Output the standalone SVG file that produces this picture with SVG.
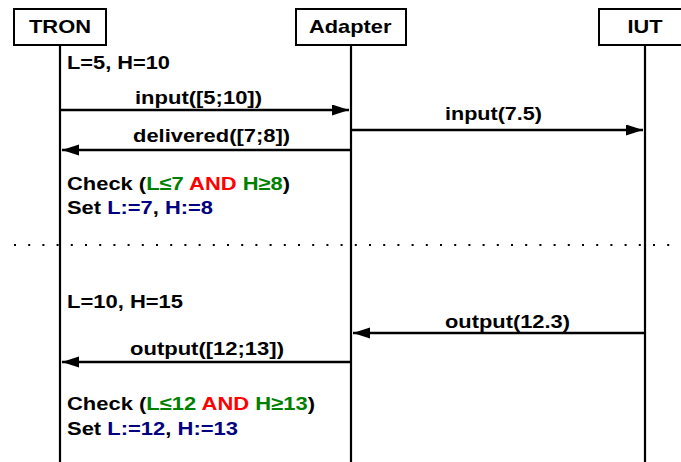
<svg xmlns="http://www.w3.org/2000/svg" width="681" height="462" viewBox="0 0 681 462">
<style>
  text { font-family: "Liberation Sans", Arial, sans-serif; font-weight: bold; font-size: 19px; fill: #000; }
  .box { fill: #fff; stroke: #000; stroke-width: 2; }
  .life { stroke: #000; stroke-width: 2.2; }
  .msg { stroke: #000; stroke-width: 2.5; fill: none; marker-end: url(#arrow); }
  .g { fill: #008000; }
  .r { fill: #ff0000; }
  .b { fill: #000080; }
</style>
<defs>
  <marker id="arrow" markerUnits="userSpaceOnUse" markerWidth="18" markerHeight="12" refX="17" refY="5.5" orient="auto">
    <path d="M0,0 L17,5.5 L0,11 z" fill="#000"/>
  </marker>
</defs>
<rect width="681" height="462" fill="#fff"/>
<g id="separator">
  <line x1="14" y1="245" x2="681" y2="245" stroke="#000" stroke-width="2" stroke-dasharray="2 12.2"/>
</g>
<g id="tron">
  <line class="life" x1="60" y1="45" x2="60" y2="462"/>
  <rect class="box" x="14" y="9" width="92" height="36"/>
  <text x="29" y="33" textLength="62" lengthAdjust="spacingAndGlyphs">TRON</text>
</g>
<g id="adapter">
  <line class="life" x1="351" y1="45" x2="351" y2="462"/>
  <rect class="box" x="296" y="9" width="110" height="36"/>
  <text x="309" y="33" textLength="82.4" lengthAdjust="spacingAndGlyphs">Adapter</text>
</g>
<g id="iut">
  <line class="life" x1="645" y1="45" x2="645" y2="462"/>
  <rect class="box" x="599" y="9" width="92" height="36"/>
  <text x="627.5" y="33" textLength="35" lengthAdjust="spacingAndGlyphs">IUT</text>
</g>
<g id="connectors">
  <line class="msg" x1="61" y1="110" x2="349" y2="110"/>
  <line class="msg" x1="352" y1="130" x2="643" y2="130"/>
  <line class="msg" x1="350" y1="150" x2="62" y2="150"/>
  <line class="msg" x1="644" y1="333" x2="353" y2="333"/>
  <line class="msg" x1="350" y1="362" x2="62" y2="362"/>
</g>
<g id="labels">
  <text x="67" y="69" textLength="103" lengthAdjust="spacingAndGlyphs">L=5, H=10</text>
  <text x="135" y="104" textLength="127" lengthAdjust="spacingAndGlyphs">input([5;10])</text>
  <text x="445" y="120" textLength="97" lengthAdjust="spacingAndGlyphs">input(7.5)</text>
  <text x="133" y="142" textLength="157" lengthAdjust="spacingAndGlyphs">delivered([7;8])</text>
  <text x="67" y="190" textLength="223" lengthAdjust="spacingAndGlyphs">Check (<tspan class="g">L≤7</tspan> <tspan class="r">AND</tspan> <tspan class="g">H≥8</tspan>)</text>
  <text x="67" y="214" textLength="146" lengthAdjust="spacingAndGlyphs">Set <tspan class="b">L:=7</tspan>, <tspan class="b">H:=8</tspan></text>
  <text x="67" y="308" textLength="116" lengthAdjust="spacingAndGlyphs">L=10, H=15</text>
  <text x="445" y="328" textLength="125" lengthAdjust="spacingAndGlyphs">output(12.3)</text>
  <text x="130" y="355" textLength="154" lengthAdjust="spacingAndGlyphs">output([12;13])</text>
  <text x="67" y="410" textLength="248" lengthAdjust="spacingAndGlyphs">Check (<tspan class="g">L≤12</tspan> <tspan class="r">AND</tspan> <tspan class="g">H≥13</tspan>)</text>
  <text x="67" y="435" textLength="171" lengthAdjust="spacingAndGlyphs">Set <tspan class="b">L:=12</tspan>, <tspan class="b">H:=13</tspan></text>
</g>
</svg>
